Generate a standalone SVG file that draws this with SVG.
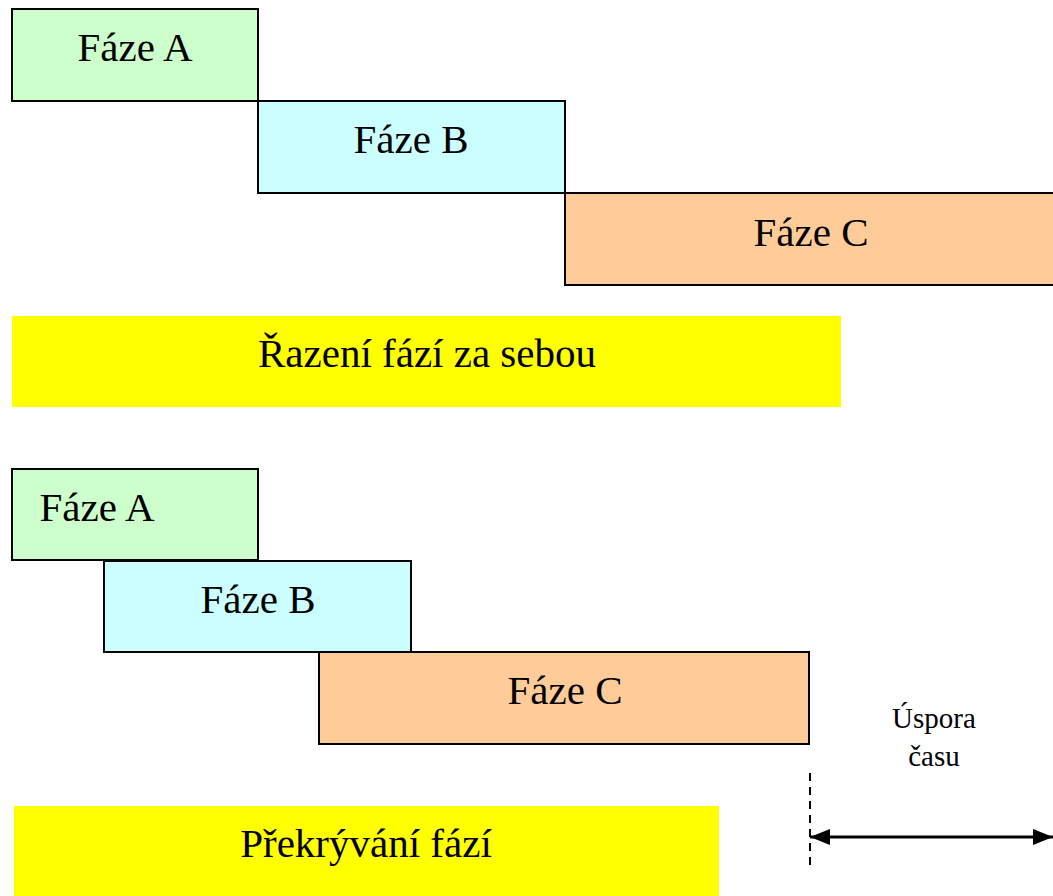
<svg xmlns="http://www.w3.org/2000/svg" width="1053" height="896" viewBox="0 0 1053 896">
  <style>
    .box { stroke: #000; stroke-width: 2; }
    .a { fill: #CCFFCC; }
    .b { fill: #CCFFFF; }
    .c { fill: #FFCC99; }
    .band { fill: #FFFF00; }
    .lbl { font-size: 41px; fill: #000; text-anchor: middle; }
    .small { font-size: 29px; fill: #000; text-anchor: middle; }
  </style>
  <defs>
    <marker id="head" viewBox="0 0 20 16" refX="20" refY="8" markerWidth="20" markerHeight="16" markerUnits="userSpaceOnUse" orient="auto-start-reverse">
      <path d="M0,0 L20,8 L0,16 Z" fill="#000"/>
    </marker>
  </defs>

  <rect width="1053" height="896" fill="#fff"/>

  <!-- sequential phases -->
  <g id="seq-a"><rect class="box a" x="12" y="9" width="246" height="92"/><text class="lbl" font-family="Liberation Serif, serif" x="135" y="61">Fáze A</text></g>
  <g id="seq-b"><rect class="box b" x="258" y="101" width="307" height="92"/><text class="lbl" font-family="Liberation Serif, serif" x="411" y="153">Fáze B</text></g>
  <g id="seq-c"><rect class="box c" x="565" y="193" width="495" height="92"/><text class="lbl" font-family="Liberation Serif, serif" x="811" y="246">Fáze C</text></g>
  <g id="seq-label"><rect class="band" x="12" y="316" width="829" height="91"/><text class="lbl" font-family="Liberation Serif, serif" x="427" y="367">Řazení fází za sebou</text></g>

  <!-- overlapping phases -->
  <g id="ovl-a"><rect class="box a" x="12" y="469" width="246" height="91"/><text class="lbl" font-family="Liberation Serif, serif" x="97" y="521">Fáze A</text></g>
  <g id="ovl-b"><rect class="box b" x="104" y="561" width="307" height="91"/><text class="lbl" font-family="Liberation Serif, serif" x="258" y="613">Fáze B</text></g>
  <g id="ovl-c"><rect class="box c" x="319" y="652" width="490" height="92"/><text class="lbl" font-family="Liberation Serif, serif" x="565" y="704">Fáze C</text></g>
  <g id="ovl-label"><rect class="band" x="14" y="806" width="705" height="90"/><text class="lbl" font-family="Liberation Serif, serif" x="366" y="857">Překrývání fází</text></g>

  <g id="saving-label">
    <text class="small" font-family="Liberation Serif, serif" x="934" y="728">Úspora</text>
    <text class="small" font-family="Liberation Serif, serif" x="934" y="766">času</text>
  </g>

  <g id="connectors">
    <line x1="810" y1="773" x2="810" y2="868" stroke="#000" stroke-width="2" stroke-dasharray="8,6"/>
    <line x1="810" y1="837" x2="1053" y2="837" stroke="#000" stroke-width="3" marker-start="url(#head)" marker-end="url(#head)"/>
  </g>
</svg>
